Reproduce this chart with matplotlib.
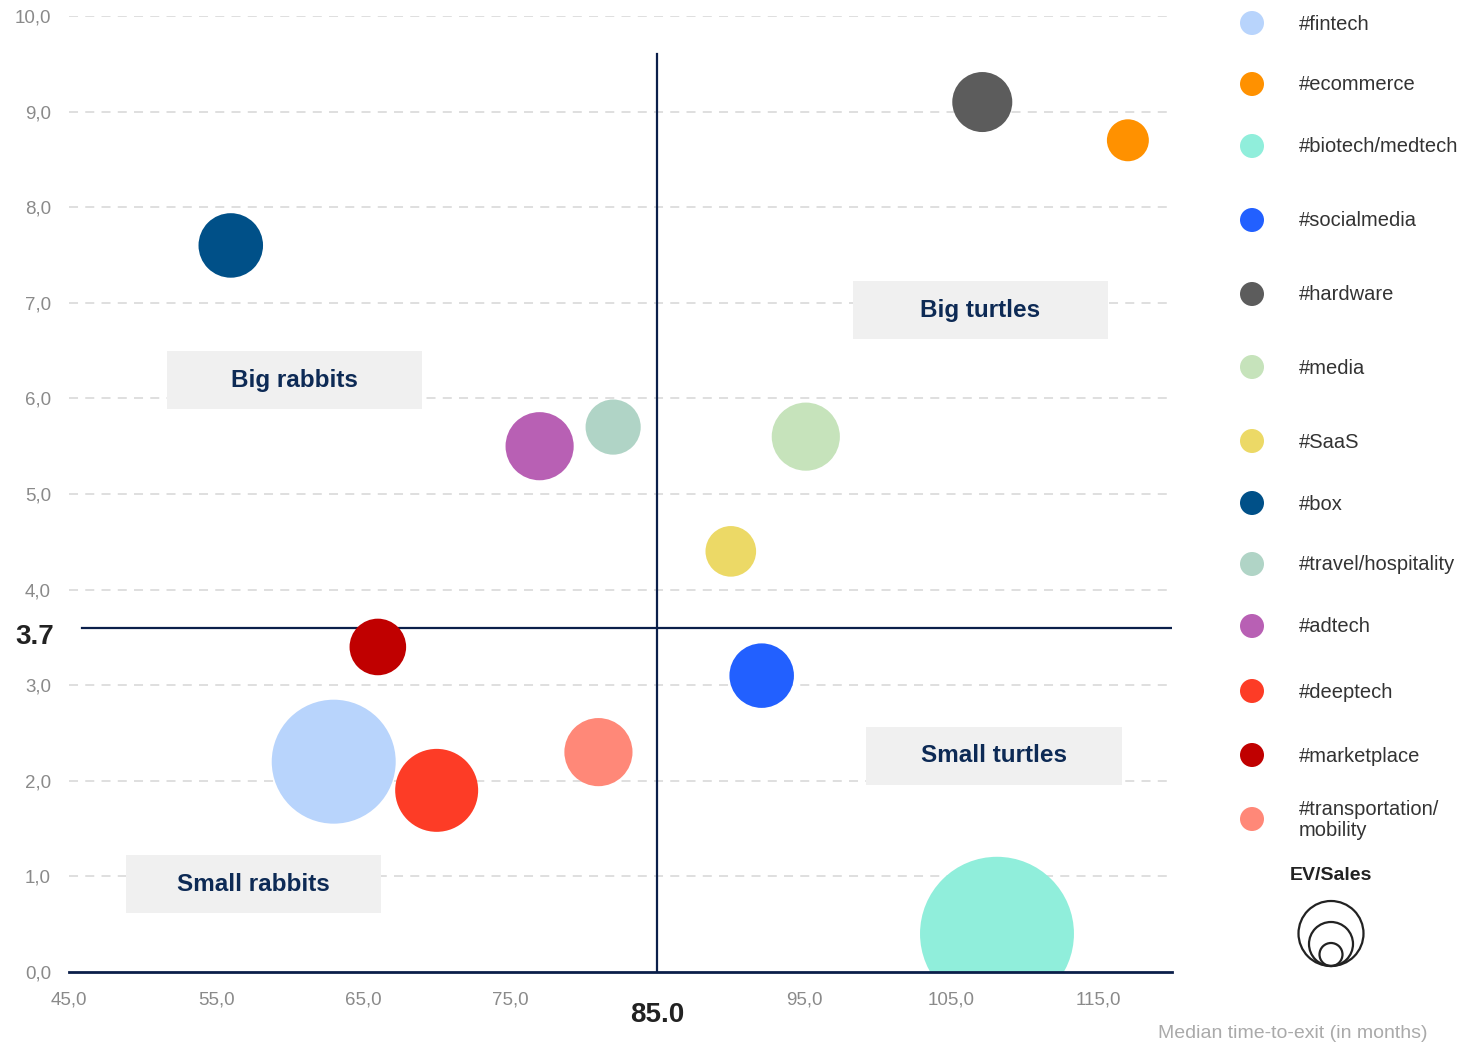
import matplotlib.pyplot as plt
from matplotlib.patches import Rectangle, Circle

plt.rcParams['font.family'] = ['Liberation Sans', 'DejaVu Sans']

# Data
sectors = ['#fintech', '#ecommerce', '#biotech/medtech', '#socialmedia', '#hardware',
           '#media', '#SaaS', '#box', '#travel/hospitality', '#adtech', '#deeptech',
           '#marketplace', '#transportation/\nmobility']
time_to_exit = [63.0, 117.0, 108.1, 92.1, 107.1, 95.1, 90.0, 56.0, 82.0, 77.0, 70.0, 66.0, 81.0]
ev_growth = [2.2, 8.7, 0.4, 3.1, 9.1, 5.6, 4.4, 7.6, 5.7, 5.5, 1.9, 3.4, 2.3]
ev_sales = [9.6, 1.1, 14.8, 2.6, 2.25, 2.9, 1.6, 2.6, 1.9, 2.9, 4.3, 2.0, 2.9]
colors = ['#b8d4fc', '#ff9100', '#90eedb', '#2260ff', '#5c5c5c', '#c6e3bb', '#ecd966',
          '#005088', '#b0d4c6', '#b860b4', '#fd3c26', '#c00000', '#ff8878']

x_ticks = [45, 55, 65, 75, 95, 105, 115]
median_x = 85.0
median_y = 3.6
median_y_label = '3.7'
quadrants = ['Big turtles', 'Big rabbits', 'Small turtles', 'Small rabbits']

NAVY = '#0b1f4a'

fig = plt.figure(figsize=(14.64, 10.44), dpi=100)
ax = fig.add_axes([69 / 1464, 72 / 1044, 1103 / 1464, 956 / 1044])

ax.set_xlim(45, 120)
ax.set_ylim(0, 10)

# grid
for y in range(1, 11):
    ax.plot([45, 120], [y, y], color='#dcdcdc', lw=1.3, dashes=(5, 4), zorder=0)
ax.plot([45, 120], [0, 0], color=NAVY, lw=2, zorder=3, clip_on=False)

# median lines
ax.plot([median_x, median_x], [0, 9.6], color=NAVY, lw=1.6, zorder=1)
ax.plot([45.9, 120], [median_y, median_y], color=NAVY, lw=1.6, zorder=1)

# bubbles (area ~ EV/Sales)
sizes = [v * 830 for v in ev_sales]
ax.scatter(time_to_exit, ev_growth, s=sizes, c=colors, edgecolors='none', zorder=2)

# quadrant labels
quad_pos = [(106.97, 6.92), (60.34, 6.19), (107.9, 2.26), (57.55, 0.92)]
bw, bh = 255 / 14.7, 58 / 95.6
for name, (qx, qy) in zip(quadrants, quad_pos):
    ax.add_patch(Rectangle((qx - bw / 2, qy - bh / 2), bw, bh, facecolor='#f0f0f0',
                           edgecolor='none', zorder=1.5))
    ax.text(qx, qy, name, ha='center', va='center', fontsize=17.5, color='#0d2a55',
            fontweight='bold', zorder=4)

# ticks
ax.set_xticks(x_ticks)
ax.set_xticklabels([f'{t},0' for t in x_ticks])
ax.set_yticks(range(0, 11))
ax.set_yticklabels([f'{t},0' for t in range(0, 11)])
ax.tick_params(length=0, labelsize=13.5, labelcolor='#8a8a8a')
ax.tick_params(axis='x', pad=14)
ax.tick_params(axis='y', pad=13)
for s in ax.spines.values():
    s.set_visible(False)

ax.text(median_x, -0.45, f'{median_x:.1f}', ha='center', va='center', fontsize=20,
        color='#222222', fontweight='bold', clip_on=False)
ax.text(45.0 - 54 / 14.7, median_y - 0.1, median_y_label, ha='left', va='center',
        fontsize=20, color='#222222', fontweight='bold', clip_on=False)

fig.text(1427 / 1464, 1 - 1033 / 1044, 'Median time-to-exit (in months)', ha='right',
         va='center', fontsize=14, color='#aaaaaa')

# legend overlay
lax = fig.add_axes([0, 0, 1, 1])
lax.set_xlim(0, 1464)
lax.set_ylim(1044, 0)
lax.axis('off')
leg_y = [23, 84, 146, 220, 294, 367, 441, 503, 564, 626, 691, 755, 819]
for name, col, ly in zip(sectors, colors, leg_y):
    lax.add_patch(Circle((1252, ly), 12, facecolor=col, edgecolor='none'))
    lax.text(1299, ly + 1, name, ha='left', va='center', fontsize=14.5, color='#333333',
             linespacing=1.1)

lax.text(1331, 875, 'EV/Sales', ha='center', va='center', fontsize=14, color='#222222',
         fontweight='bold')
for r, cy in [(32.5, 933.5), (22, 944), (11.5, 954.5)]:
    lax.add_patch(Circle((1331, cy), r, facecolor='none', edgecolor='#222222', lw=1.6))

fig.savefig('out.png', dpi=100)
